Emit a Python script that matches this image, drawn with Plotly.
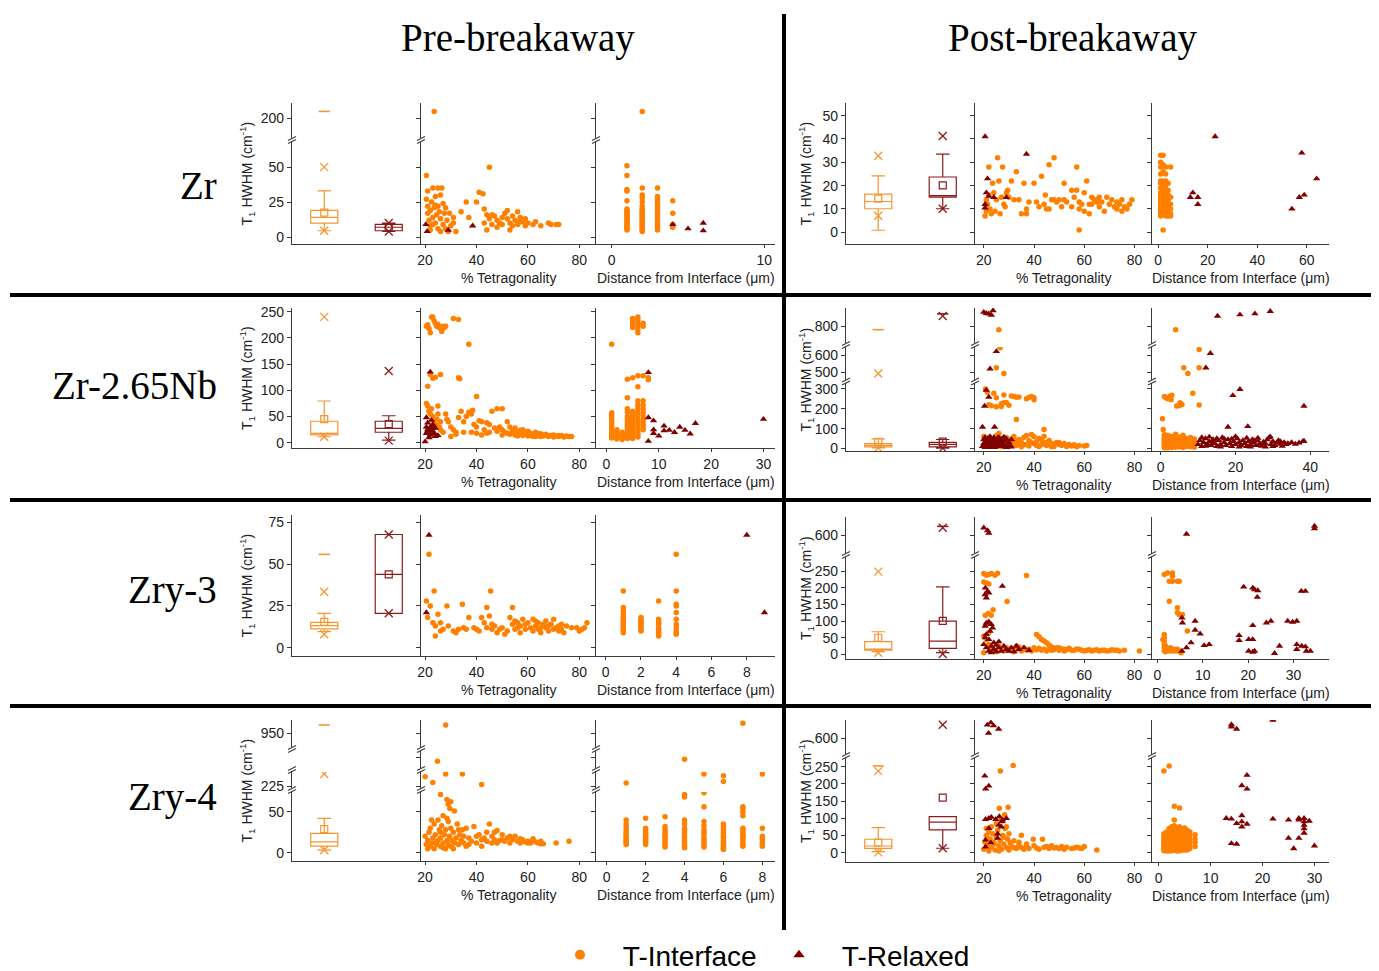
import plotly.graph_objects as go

W, H = 1379, 971
PAGE_PAD = 8  # browser default body margin
FW, FH = W - PAGE_PAD, H - PAGE_PAD
ORANGE = "#FF8000"
DARKRED = "#800000"
BOX_ORANGE = "#F5952F"
BOX_RED = "#8B1C1C"
AXIS = "#3a3a3a"
FONT = "Liberation Sans"
SERIF = "Liberation Serif"

COL_TITLES = ["Pre-breakaway", "Post-breakaway"]
ROW_TITLES = ["Zr", "Zr-2.65Nb", "Zry-3", "Zry-4"]
XTITLE_TET = "% Tetragonality"
XTITLE_DIST = "Distance from Interface (μm)"
YTITLE = "T<sub>1</sub> HWHM (cm<sup>-1</sup>)"
LEGEND_NAMES = ["   T-Interface", "   T-Relaxed"]

TET_TICKS = [20, 40, 60, 80]

# ---------------- box statistics (q1, median, q3, whiskers, mean, 1%/99% "x", min/max "-") -------------
PRE_ZR_BOX_INT = dict(q1=10, med=14, q3=19, lo=4.5, hi=33, mean=17.4, xs=[50, 4.5], dash=[205])
PRE_ZR_BOX_REL = dict(q1=4.5, med=7, q3=9, lo=4, hi=10, mean=7, xs=[10, 4], dash=[])
POST_ZR_BOX_INT = dict(q1=10.1, med=13.2, q3=16.4, lo=0.9, hi=24.2, mean=14.4, xs=[32.8, 7.1], dash=[])
POST_ZR_BOX_REL = dict(q1=15.1, med=15.7, q3=23.7, lo=10.1, hi=33.5, mean=20.1, xs=[41.3, 10.1], dash=[])
PRE_NB_BOX_INT = dict(q1=15, med=18, q3=41, lo=11.5, hi=79.6, mean=45, xs=[240, 11.5], dash=[])
PRE_NB_BOX_REL = dict(q1=20, med=27.5, q3=41, lo=5, hi=51.5, mean=35.7, xs=[137, 4], dash=[])
POST_NB_BOX_INT = dict(q1=8, med=15, q3=24, lo=3, hi=48, mean=33, xs=[493, 2], dash=[780])
POST_NB_BOX_REL = dict(q1=8, med=20, q3=31, lo=2, hi=45, mean=34, xs=[862, 1], dash=[875])
PRE_ZRY3_BOX_INT = dict(q1=11.2, med=13.2, q3=15.2, lo=9.6, hi=20.6, mean=15.5, xs=[33.5, 8], dash=[55.9])
PRE_ZRY3_BOX_REL = dict(q1=20.6, med=43.9, q3=67.8, lo=20.6, hi=67.8, mean=43.9, xs=[67.8, 20.6], dash=[])
POST_ZRY3_BOX_INT = dict(q1=13, med=16, q3=38, lo=8, hi=68, mean=50, xs=[249, 5], dash=[])
POST_ZRY3_BOX_REL = dict(q1=18, med=40, q3=100, lo=5, hi=203, mean=101, xs=[640, 1], dash=[648])
PRE_ZRY4_BOX_INT = dict(q1=8.2, med=13.4, q3=23.6, lo=3.3, hi=42, mean=28.9, xs=[375, 3.3], dash=[1000])
POST_ZRY4_BOX_INT = dict(q1=12.8, med=19.5, q3=39, lo=3, hi=72.7, mean=29, xs=[237, 1], dash=[252])
POST_ZRY4_BOX_REL = dict(q1=66, med=89, q3=105, lo=13, hi=105, mean=160, xs=[659, 13], dash=[])

# ---------------- Pre-breakaway Zr ----------------
PRE_ZR_TET_INT = [(23.5, 205), (20.5, 44), (45, 50),
    (20.5, 27), (21, 22), (21, 17), (21.5, 12), (22, 8), (22, 19), (22.5, 25), (23, 35), (23, 14), (23.5, 21),
    (24, 29), (24, 10), (24.5, 16), (25, 35), (25, 6), (25, 22), (25.5, 18), (26, 13), (26, 30), (26.5, 35),
    (27, 24), (27, 9), (27.5, 17), (28, 21), (28.5, 12), (29, 4), (29.5, 17), (30, 8), (31, 14), (32, 4),
    (31, 10), (22, 5), (23, 9), (24, 23), (26, 4), (28, 6), (21, 33), (34, 18), (36, 25), (37, 14), (40, 25),
    (41, 32), (42.5, 31), (43, 20), (43, 10), (44, 5), (44, 16), (45, 13), (46, 9), (47, 15), (48, 12), (49, 10),
    (50, 14), (50, 9), (51, 17), (52, 19), (52, 13), (53, 10), (53, 5), (54, 15), (55, 12), (56, 18), (56, 9),
    (57, 14), (58, 11), (59, 13), (59, 8), (60, 10), (62, 9), (63, 11), (65, 8), (68, 10), (69, 9), (71, 9),
    (72, 9), (46, 16), (48, 7), (54, 8), (57, 11)]
PRE_ZR_TET_REL = [(20.3, 9), (20.8, 4), (29, 5), (38.5, 8)]
PRE_ZR_DIST_INT = {1: [51, 44, 34, 33, 26, 20, 19, 18, 17, 16, 15, 14, 13, 12, 11, 10, 9, 8, 7, 6, 5],
                   2: [205, 35, 30, 28, 25, 22, 20, 19, 18, 17, 16, 15, 14, 13, 12, 11, 10, 9, 8, 7, 6, 5, 4],
                   3: [35, 29, 27, 25, 23, 21, 19, 17, 15, 13, 11, 9, 7, 5],
                   4: [26, 17, 9, 8, 7]}
PRE_ZR_DIST_REL = [(4, 9), (5, 6), (6, 10), (6, 4.5)]

# ---------------- Post-breakaway Zr ----------------
POST_ZR_TET_INT = [(20.5, 7), (21, 9), (21, 14), (21.5, 12), (22, 28), (22, 16), (22.5, 10), (23, 8), (23.5, 21),
    (24, 17), (24.5, 9), (25, 14), (25.5, 32), (26, 22), (26.5, 8), (27, 15), (27.5, 28), (28, 12), (28.5, 11),
    (29, 17), (29.5, 18), (30, 15), (31, 22), (32, 14), (33, 26), (34, 14), (35, 8), (36, 21), (37, 8), (37, 10),
    (38, 13), (40, 21), (41, 13), (42, 11), (43, 24), (44, 12), (44.5, 16), (45, 10), (46, 29), (47, 14), (48, 32),
    (49, 13), (50, 14), (51, 11), (52, 21), (52, 14), (53, 13), (55, 18), (56, 15), (57, 28), (57, 18), (58, 10),
    (58, 13), (59, 12), (60, 17), (60, 9), (61, 22), (62, 8), (63, 15), (63, 12), (64, 14), (65, 13), (66, 11),
    (66, 15), (67, 13), (68, 9), (69, 15), (70, 12), (71, 14), (72, 11), (73, 10), (73, 13), (74, 12), (75, 9),
    (75, 14), (76, 11), (77, 10), (78, 12), (79, 14), (58, 1), (55, 11), (46, 10), (48, 14), (62, 12), (65, 14)]
POST_ZR_TET_REL = [(20.5, 41), (21.5, 23), (21, 17), (20.5, 12), (20.5, 10.5), (24, 15), (29, 15), (37, 33.5), (22, 15.5)]
POST_ZR_DIST_INT = {1: [33, 30, 28, 25, 22, 21, 19, 17, 16, 15, 14, 13, 12, 11, 10, 9, 8, 7],
                    2: [33, 29, 26, 22, 20, 18, 17, 16, 15, 14, 13, 12, 11, 10, 9, 8, 1],
                    3: [28, 25, 22, 20, 18, 17, 15, 14, 13, 12, 11, 10, 9, 8, 7],
                    4: [21, 18, 16, 14, 12, 11, 10, 9, 8, 7],
                    5: [28, 15, 12, 10, 8, 7]}
POST_ZR_DIST_REL = [(13, 15), (14, 17), (16, 15), (16, 12), (23, 41), (54, 10), (57, 15), (58, 34), (59, 16), (64, 23)]

# ---------------- Pre-breakaway Zr-2.65Nb ----------------
PRE_NB_TET_INT = [(20.5, 222), (21, 225), (21.5, 218), (22, 210), (22.5, 240), (23, 240), (23.5, 232), (24, 228),
    (24.5, 222), (25, 226), (25.5, 220), (26, 218), (26.5, 212), (27, 222), (27.5, 220), (28, 222), (31, 237),
    (33, 235), (37, 188), (21, 108), (22, 130), (23, 123), (24, 125), (26, 130), (33, 124), (33.5, 122), (40, 88),
    (20.5, 75), (21, 70), (21.5, 60), (22, 55), (22.5, 65), (23, 50), (23.5, 40), (24, 35), (24.5, 45), (25, 70),
    (25.5, 30), (26, 25), (27, 20), (28, 55), (28.5, 45), (29, 40), (30, 30), (31, 25), (32, 20), (33, 48),
    (34, 60), (35, 40), (36, 50), (37, 58), (38, 55), (38.5, 62), (39, 35), (40, 30), (41, 42), (42, 40), (43, 25),
    (44, 38), (45, 35), (46, 60), (47, 28), (48, 65), (49, 30), (50, 65), (50, 25), (51, 20), (52, 40), (52, 18),
    (53, 30), (54, 22), (55, 28), (55, 15), (56, 20), (57, 18), (58, 25), (58, 14), (59, 16), (60, 22), (60, 13),
    (61, 18), (62, 15), (62, 12), (63, 20), (64, 14), (65, 17), (65, 12), (66, 13), (67, 16), (68, 12), (69, 14),
    (70, 11), (70, 15), (71, 13), (72, 12), (73, 14), (74, 11), (75, 13), (76, 12), (77, 12), (21, 20), (22, 12),
    (23, 28), (24, 15), (26, 40), (25, 55), (30, 12), (32, 16), (35, 20), (40, 18), (45, 20), (48, 22), (50, 15),
    (53, 16), (56, 13), (57, 24), (59, 20), (61, 14), (63, 12), (64, 17), (66, 15), (68, 14), (72, 14), (74, 12),
    (44, 18), (42, 15), (38, 20)]
PRE_NB_TET_REL = [(20, 2), (20.5, 48), (21, 38), (21, 25), (21.5, 20), (22, 30), (22, 15), (22.5, 26), (23, 22),
    (23.5, 18), (24, 28), (24, 12), (22, 135), (20.5, 18), (21, 22), (22.5, 43), (23, 35), (25, 14), (20.5, 30),
    (22, 25), (23, 28), (21.5, 10)]
PRE_NB_DIST_INT = {1: [188, 57, 52, 47, 42, 37, 32, 27, 23, 19, 15, 12, 9],
                   2: [25, 20, 16, 12, 9, 7],
                   3: [20, 16, 12, 9, 6],
                   4: [121, 86, 65, 58, 50, 44, 38, 33, 28, 23, 19, 15, 11, 8],
                   5: [237, 232, 226, 220, 124, 60, 55, 50, 45, 40, 35, 30, 25, 20, 15, 11, 8],
                   6: [240, 234, 228, 222, 216, 210, 128, 107, 80, 72, 65, 58, 52, 46, 40, 35, 30, 25, 20, 15, 11],
                   7: [228, 222, 128, 80, 72, 65, 58, 52, 46, 40, 35, 30, 25],
                   8: [124, 120]}
PRE_NB_DIST_REL = [(8, 134), (8, 48), (8, 3), (9, 42), (9, 25), (9, 18), (10, 13), (11, 32), (11, 23), (12, 24),
                   (13, 20), (14, 30), (15, 24), (16, 17), (17, 37), (30, 45)]

# ---------------- Post-breakaway Zr-2.65Nb ----------------
POST_NB_TET_INT = [(26, 780), (26.5, 645), (25, 527), (28, 493),
    (20.7, 300), (21.4, 283), (24, 278), (25, 255), (27, 225), (28, 230), (29, 232), (30, 218), (31, 265), (32, 262),
    (33, 258), (34, 260), (37, 250), (38, 258), (39, 262), (40, 255), (40, 245), (33, 146), (44, 95), (22, 220),
    (23, 215), (25, 210), (27, 212), (28, 270),
    (20, 60), (21, 40), (22, 55), (23, 30), (24, 45), (25, 65), (26, 20), (27, 50), (28, 35), (29, 55), (30, 40),
    (31, 25), (32, 60), (33, 15), (34, 45), (35, 30), (36, 55), (37, 20), (38, 40), (39, 70), (40, 60), (40, 25),
    (41, 35), (42, 50), (43, 20), (44, 30), (45, 15), (46, 40), (47, 25), (48, 10), (49, 30), (50, 20), (51, 15),
    (52, 25), (53, 10), (54, 20), (55, 12), (56, 18), (57, 8), (58, 15), (60, 12), (61, 15), (30, 10), (32, 20),
    (35, 8), (38, 12), (42, 10), (45, 28), (47, 8), (50, 30), (36, 18), (34, 22), (26, 75), (28, 10), (31, 48),
    (33, 38), (37, 65), (41, 15), (43, 45), (44, 62), (46, 22), (39, 28), (29, 18), (27, 8)]
POST_NB_TET_REL = [(20, 885), (21, 878), (22, 875), (23, 868), (23.7, 895), (25, 624), (22.5, 521),
    (21, 294), (22, 259), (20.3, 214), (19.5, 108), (24.3, 108),
    (19.5, 10), (20, 25), (20, 45), (20.5, 55), (21, 15), (21, 35), (21.5, 50), (22, 5), (22, 25), (22, 40),
    (22.5, 60), (23, 15), (23, 30), (23, 50), (23.5, 8), (24, 20), (24, 40), (24, 55), (24.5, 30), (25, 10),
    (25, 45), (25.5, 22), (26, 35), (26, 55), (26.5, 15), (27, 28), (27, 45), (27.5, 10), (28, 20), (28.5, 38),
    (29, 5), (29, 48), (30, 15), (30, 30), (31, 8), (20.5, 5), (21.5, 20), (22.5, 12), (23.5, 42), (24.5, 5),
    (25.5, 52), (26.5, 40), (28, 58), (31, 45)]
POST_NB_DIST_INT_EXTRA = [(4, 780), (10.3, 635), (6.2, 527), (7.3, 493), (10.3, 527), (0.5, 150), (1, 262),
    (1.5, 254), (2.4, 262), (2, 250), (4.3, 214), (5.2, 230), (5.7, 222), (8.6, 278), (10.3, 219), (0.7, 95),
    (3, 268), (2.8, 245), (5, 215)]
POST_NB_DIST_INT = {1: [70, 60, 52, 45, 38, 30, 22, 15, 8, 3],
                    2: [65, 55, 48, 40, 33, 25, 18, 10, 4],
                    3: [60, 50, 42, 35, 28, 20, 12, 5],
                    4: [72, 62, 52, 44, 36, 28, 20, 12, 6],
                    5: [58, 48, 40, 32, 24, 16, 8],
                    6: [66, 55, 45, 36, 28, 20, 12, 5],
                    7: [50, 42, 34, 26, 18, 10],
                    8: [55, 45, 36, 27, 18, 9],
                    9: [48, 38, 30, 22, 14, 6]}
POST_NB_DIST_REL = [(15.2, 862), (21.2, 870), (25.2, 876), (29.3, 890), (13.3, 613), (12.1, 527),
    (21.2, 298), (19.3, 267), (18, 108), (23.3, 111), (38.3, 214), (29.3, 59), (38.3, 37),
    (10, 20), (10.5, 40), (11, 10), (11.5, 30), (12, 50), (12.5, 20), (13, 35), (13.5, 15), (14, 45), (14.5, 25),
    (15, 10), (15.5, 40), (16, 20), (16.5, 55), (17, 30), (17.5, 15), (18, 45), (18.5, 25), (19, 10), (19.5, 35),
    (20, 20), (20.5, 50), (21, 30), (21.5, 15), (22, 40), (22.5, 25), (23, 10), (23.5, 35), (24, 20), (24.5, 45),
    (25, 28), (25.5, 15), (26, 38), (26.5, 22), (27, 12), (27.5, 32), (28, 25), (28.5, 45), (29, 55), (29.5, 20),
    (30, 35), (30.5, 15), (31, 28), (31.5, 40), (32, 22), (32.5, 12), (33, 30), (33.5, 20), (34, 25), (35, 30),
    (36, 22), (37, 28), (38, 35), (11, 55), (13, 58), (16, 8), (19, 48), (21, 8), (24, 8), (26, 52), (28, 8),
    (20, 60), (15, 50), (12, 12), (14, 30), (17, 48), (23, 52), (25, 40), (30, 10), (32, 35)]

# ---------------- Pre-breakaway Zry-3 ----------------
PRE_ZRY3_TET_INT = [(21.5, 56), (20.5, 28), (21, 18), (22, 25), (23.5, 34), (23, 15), (24, 13), (24, 7), (25, 20),
    (26, 10), (26, 15), (27, 11), (28.5, 25), (29, 13), (31, 10), (32, 9), (33, 11), (34.5, 26), (35, 12), (36, 11),
    (37, 18), (39, 12), (40, 11), (41, 10), (42, 18), (43, 15), (44, 24), (44, 12), (45.5, 34), (45, 19), (46, 14),
    (46, 11), (47, 13), (48, 9), (49, 11), (50, 12), (51, 8), (52, 10), (53, 18), (54, 24), (54, 14), (55, 16),
    (55, 11), (56, 12), (56, 15), (57, 13), (57, 9), (58, 17), (59, 11), (59, 14), (60, 15), (61, 12), (62, 17),
    (62, 10), (63, 16), (63, 13), (64, 11), (64, 15), (65, 12), (65, 9), (66, 14), (67, 12), (67, 16), (68, 10),
    (68, 13), (69, 14), (70, 11), (70, 17), (71, 12), (72, 13), (72, 10), (73, 11), (73, 14), (74, 9), (75, 13),
    (77, 12), (79, 12), (80, 10), (81, 11), (82, 12), (83, 15)]
PRE_ZRY3_TET_REL = [(21.5, 67.5), (20.5, 21)]
PRE_ZRY3_DIST_INT = {1: [34, 24, 22, 20, 18, 17, 16, 15, 14, 13, 12, 11, 10, 9],
                     2: [18, 17, 16, 15, 14, 13, 12, 11, 10],
                     3: [28, 17, 16, 15, 14, 12, 11, 10, 9, 8, 7],
                     4: [56, 34, 26, 25, 21, 17, 14, 12, 10, 9, 8]}
PRE_ZRY3_DIST_REL = [(8, 67.5), (9, 21)]

# ---------------- Post-breakaway Zry-3 ----------------
POST_ZRY3_TET_INT = [(20, 243), (21, 238), (22, 240), (23, 243), (24.5, 238), (25.5, 244), (20, 218), (21, 215),
    (22, 212), (20.6, 118), (21.8, 123), (23, 118), (23.7, 134), (29.3, 159), (37, 237),
    (41, 60), (42, 53), (43, 45), (44, 40), (45, 35), (46, 28), (47, 22), (48, 18), (50, 20), (52, 15), (54, 18),
    (56, 12), (58, 15), (60, 10), (62, 14), (64, 12), (66, 10), (68, 12), (70, 11), (72, 12), (74, 10), (76, 12),
    (82, 10), (20, 55), (21, 45), (22, 30), (23, 20), (24, 12), (25, 8), (26, 25), (27, 15), (28, 10), (29, 20),
    (30, 12), (31, 18), (32, 8), (33, 15), (34, 22), (35, 10), (36, 18), (37, 12), (38, 15), (39, 10), (40, 20),
    (41, 14), (42, 18), (43, 12), (44, 15), (45, 10), (46, 16), (47, 12), (48, 14), (49, 20), (50, 12), (51, 16),
    (52, 10), (53, 14), (55, 12), (57, 16), (59, 12), (61, 12), (63, 10), (65, 14), (67, 12), (69, 10), (71, 14),
    (73, 12), (22, 65), (21, 90), (20, 5), (33, 25)]
POST_ZRY3_TET_REL = [(20, 640), (21.5, 625), (22, 610), (20.6, 200), (21.5, 190), (22, 185), (21, 170), (20.5, 180),
    (27.4, 205), (21, 94), (22, 98), (23, 90), (23.5, 80), (20.5, 85), (22.5, 70), (26, 38), (20, 30), (21, 20),
    (22, 10), (23, 25), (24, 15), (25, 8), (26, 20), (27, 10), (28, 25), (29, 15), (30, 10), (31, 20), (32, 8),
    (33, 25), (34, 15), (36, 20), (38, 12), (20.5, 50), (22, 45), (24, 35), (25, 28), (23, 5), (21, 60)]
POST_ZRY3_DIST_INT = [(1.5, 240), (2.2, 245), (3.3, 245), (3.3, 235), (2.6, 220), (3.3, 220), (4.4, 220), (4.8, 220),
    (2.6, 160), (4.4, 140), (4.4, 125), (4.8, 120), (5.5, 120), (6.6, 70), (1.5, 60), (1.5, 50), (1.5, 40),
    (1.5, 30), (1.5, 20), (1.5, 10), (1.8, 25), (2.2, 15), (2.6, 10), (2.9, 20), (3.3, 10), (3.7, 15), (4.1, 10),
    (4.4, 15), (4.8, 10), (5.2, 5), (1.2, 45), (1.8, 8)]
POST_ZRY3_DIST_REL = [(6.4, 605), (34.6, 650), (34.6, 635), (5.4, 110), (5.5, 95), (8.3, 100), (8.3, 73), (9.4, 62),
    (7.4, 35), (6.4, 20), (5.4, 10), (10.3, 27), (11.4, 30), (18, 57), (18, 42), (19, 203), (21, 200), (21.4, 195),
    (22.1, 192), (22, 172), (21, 87), (20.1, 45), (21, 45), (20.1, 10), (21, 7), (21.4, 10), (24, 95), (25, 100),
    (25.8, 3), (26.9, 25), (28.7, 100), (29.8, 97), (30.7, 100), (30.7, 30), (30.7, 15), (31.7, 190), (32.6, 190),
    (31.8, 25), (32.6, 23), (32.8, 10), (33.7, 10)]

# ---------------- Pre-breakaway Zry-4 ----------------
PRE_ZRY4_TET_INT = [(28, 1000), (24.8, 480), (20, 340), (23, 270), (28, 375), (34.5, 375), (42, 245),
    (26, 71), (29, 59), (29.6, 54), (31.4, 51), (30, 62), (28.5, 65),
    (20, 20), (20.5, 10), (21, 15), (21.5, 25), (22, 8), (22, 30), (22.5, 12), (23, 18), (23.5, 5), (23.5, 35),
    (24, 22), (24.5, 10), (25, 15), (25, 40), (25.5, 28), (26, 8), (26, 18), (26.5, 33), (27, 12), (27, 45),
    (27.5, 22), (28, 5), (28, 28), (28.5, 15), (29, 38), (29, 10), (29.5, 20), (30, 30), (30, 8), (30.5, 15),
    (31, 25), (31.5, 12), (32, 18), (32.5, 35), (33, 10), (33.5, 22), (34, 15), (34.5, 28), (35, 12), (36, 30),
    (36, 8), (37, 18), (38, 14), (39, 32), (40, 12), (41, 22), (42, 8), (43, 18), (44, 14), (45, 35), (46, 20),
    (47, 16), (48, 27), (48, 12), (49, 15), (50, 22), (51, 14), (52, 18), (53, 12), (54, 16), (55, 20), (56, 14),
    (57, 12), (58, 16), (59, 13), (60, 14), (61, 12), (62, 15), (63, 13), (64, 12), (65, 14), (66, 11), (71, 12),
    (76, 14), (21, 5), (22.5, 40), (24, 12), (26, 25), (27, 6), (28.5, 42), (31, 5), (33, 28), (35, 20), (37, 10),
    (40, 20), (42, 16), (44, 25), (46, 12), (47, 25), (50, 16), (53, 20), (57, 17), (60, 12), (62, 17), (65, 11)]
PRE_ZRY4_TET_REL = []
PRE_ZRY4_DIST_INT = {1: [264, 40, 35, 32, 28, 25, 22, 20, 18, 16, 14, 12, 10],
                     2: [42, 30, 28, 25, 22, 20, 18, 16, 14, 12, 10],
                     3: [44, 32, 28, 25, 22, 20, 18, 15, 12, 10, 7],
                     4: [491, 71, 68, 40, 35, 30, 27, 24, 20, 17, 14, 11, 8, 6],
                     5: [375, 73, 56, 38, 33, 28, 25, 22, 18, 15, 12, 10, 7],
                     6: [354, 282, 35, 32, 28, 25, 22, 20, 18, 15, 12, 10, 8, 6, 4],
                     7: [1010, 56, 54, 50, 45, 30, 28, 25, 22, 20, 18, 15, 12, 10, 8],
                     8: [375, 30, 20, 17, 13, 10, 8]}
PRE_ZRY4_DIST_REL = []

# ---------------- Post-breakaway Zry-4 ----------------
POST_ZRY4_TET_INT = [(26.6, 237), (31.7, 253), (29.7, 132), (26.2, 129), (28.3, 110), (35, 51), (39.7, 39), (43.4, 39),
    (20, 10), (20.5, 30), (21, 50), (21.5, 20), (22, 60), (22.5, 40), (23, 15), (23.5, 55), (24, 30), (24.5, 8),
    (25, 45), (25.5, 65), (26, 20), (26.5, 35), (27, 10), (27.5, 50), (28, 25), (28.5, 70), (29, 15), (29.5, 40),
    (30, 8), (30.5, 28), (31, 18), (32, 35), (33, 12), (34, 22), (35, 15), (36, 10), (37, 18), (38, 12), (40, 20),
    (41, 14), (42, 10), (44, 16), (46, 12), (47, 20), (48, 14), (50, 12), (51, 18), (52, 10), (55, 12), (57, 16),
    (58, 14), (59, 12), (60, 18), (65, 8), (22, 5), (24, 25), (26, 5), (28, 45), (30, 55), (25, 85), (27, 95),
    (29, 75), (23, 75), (21, 70), (32, 15), (34, 30), (37, 25), (45, 18), (49, 15), (56, 14), (53, 16)]
POST_ZRY4_TET_REL = [(21.4, 658), (22.8, 668), (23.9, 655), (21.9, 622), (25.9, 640),
    (20.4, 223), (20.7, 185), (22, 194), (20.7, 97), (22, 100), (23, 103), (24.8, 97), (26.2, 105), (27.5, 95),
    (29, 100), (22, 71), (25.5, 42), (20.7, 37), (20.7, 17), (22.8, 29), (27.3, 90), (27, 75), (25.5, 55), (26, 80)]
POST_ZRY4_DIST_INT_EXTRA = [(1, 237), (2, 252), (3, 95), (3, 135), (4, 130)]
POST_ZRY4_DIST_INT = {1: [55, 48, 42, 36, 30, 25, 20, 15, 10, 6],
                      1.5: [60, 50, 40, 32, 26, 20, 14, 9, 5],
                      2: [70, 62, 54, 46, 38, 30, 22, 16, 10, 5],
                      2.5: [75, 65, 55, 45, 35, 28, 20, 12, 6],
                      3: [78, 68, 58, 48, 40, 32, 24, 16, 8],
                      3.5: [72, 62, 52, 42, 34, 26, 18, 10, 5],
                      4: [75, 65, 55, 45, 35, 28, 20, 12, 6],
                      4.5: [70, 60, 50, 40, 30, 22, 14, 8],
                      5: [72, 62, 52, 42, 32, 24, 16, 8],
                      5.5: [65, 55, 45, 35, 25, 15, 8],
                      6: [60, 50, 40, 30, 20, 12],
                      7: [52, 40, 30, 18]}
POST_ZRY4_DIST_REL = [(14, 660), (14, 650), (15, 640), (22, 680), (13, 100), (14, 98), (14, 27), (15, 25), (15, 85),
    (16, 108), (16, 195), (16, 90), (16, 75), (17, 225), (17, 185), (17, 83), (22, 98), (25, 95), (25, 42), (26, 12),
    (27, 42), (27, 100), (27, 95), (28, 90), (28, 80), (28, 70), (28, 57), (29, 92), (30, 20), (28, 100)]


def pairs_xy(pairs):
    return [p[0] for p in pairs], [p[1] for p in pairs]


def columns_xy(cols, extra=()):
    xs, ys = [], []
    for x, vals in cols.items():
        for v in vals:
            xs.append(x)
            ys.append(v)
    for x, v in extra:
        xs.append(x)
        ys.append(v)
    return xs, ys


# ---------------- geometry (screen pixels) ----------------
PRE_X = (292, 421, 596, 775)
POST_X = (846, 975, 1152, 1329)
PRE_TET_RANGE = [18.4, 86.5]
POST_TET_RANGE = [16.5, 87]

CELLS = [
    dict(col=0, row=0, xp=PRE_X, t1=PRE_TET_RANGE,
         segs=[(103, 138, 186, 211, [200]), (142, 244, -5, 68, [0, 25, 50])],
         s2=[-1.03, 10.7], s2t=[0, 10],
         bi=PRE_ZR_BOX_INT, br=PRE_ZR_BOX_REL,
         ti=pairs_xy(PRE_ZR_TET_INT), tr=pairs_xy(PRE_ZR_TET_REL),
         di=columns_xy(PRE_ZR_DIST_INT), dr=pairs_xy(PRE_ZR_DIST_REL)),
    dict(col=1, row=0, xp=POST_X, t1=POST_TET_RANGE,
         segs=[(103, 244, -5, 55.4, [0, 10, 20, 30, 40, 50])],
         s2=[-2.5, 69], s2t=[0, 20, 40, 60],
         bi=POST_ZR_BOX_INT, br=POST_ZR_BOX_REL,
         ti=pairs_xy(POST_ZR_TET_INT), tr=pairs_xy(POST_ZR_TET_REL),
         di=columns_xy(POST_ZR_DIST_INT), dr=pairs_xy(POST_ZR_DIST_REL)),
    dict(col=0, row=1, xp=PRE_X, t1=PRE_TET_RANGE,
         segs=[(308, 448, -10, 257, [0, 50, 100, 150, 200, 250])],
         s2=[-2, 32.2], s2t=[0, 10, 20, 30],
         bi=PRE_NB_BOX_INT, br=PRE_NB_BOX_REL,
         ti=pairs_xy(PRE_NB_TET_INT), tr=pairs_xy(PRE_NB_TET_REL),
         di=columns_xy(PRE_NB_DIST_INT), dr=pairs_xy(PRE_NB_DIST_REL)),
    dict(col=1, row=1, xp=POST_X, t1=POST_TET_RANGE,
         segs=[(308, 343, 700, 910, [800]), (347, 380, 455, 650, [500, 600]), (383, 451, -13, 330, [0, 100, 200, 300])],
         s2=[-2.3, 45], s2t=[0, 20, 40],
         bi=POST_NB_BOX_INT, br=POST_NB_BOX_REL,
         ti=pairs_xy(POST_NB_TET_INT), tr=pairs_xy(POST_NB_TET_REL),
         di=columns_xy(POST_NB_DIST_INT, POST_NB_DIST_INT_EXTRA), dr=pairs_xy(POST_NB_DIST_REL)),
    dict(col=0, row=2, xp=PRE_X, t1=PRE_TET_RANGE,
         segs=[(515, 656, -5, 79.5, [0, 25, 50, 75])],
         s2=[-0.55, 9.6], s2t=[0, 2, 4, 6, 8],
         bi=PRE_ZRY3_BOX_INT, br=PRE_ZRY3_BOX_REL,
         ti=pairs_xy(PRE_ZRY3_TET_INT), tr=pairs_xy(PRE_ZRY3_TET_REL),
         di=columns_xy(PRE_ZRY3_DIST_INT), dr=pairs_xy(PRE_ZRY3_DIST_REL)),
    dict(col=1, row=2, xp=POST_X, t1=POST_TET_RANGE,
         segs=[(517, 553, 500, 700, [600]), (557, 659, -14, 293, [0, 50, 100, 150, 200, 250])],
         s2=[-1.2, 37.8], s2t=[0, 10, 20, 30],
         bi=POST_ZRY3_BOX_INT, br=POST_ZRY3_BOX_REL,
         ti=pairs_xy(POST_ZRY3_TET_INT), tr=pairs_xy(POST_ZRY3_TET_REL),
         di=pairs_xy(POST_ZRY3_DIST_INT), dr=pairs_xy(POST_ZRY3_DIST_REL)),
    dict(col=0, row=3, xp=PRE_X, t1=PRE_TET_RANGE,
         segs=[(720, 747, 868, 1030, [950]), (751, 768, 440, 540, [500]), (772, 788, 200, 400, [225]),
               (792, 861, -10, 74, [0, 50])],
         s2=[-0.55, 8.65], s2t=[0, 2, 4, 6, 8],
         bi=PRE_ZRY4_BOX_INT, br=None,
         ti=pairs_xy(PRE_ZRY4_TET_INT), tr=pairs_xy(PRE_ZRY4_TET_REL),
         di=columns_xy(PRE_ZRY4_DIST_INT), dr=pairs_xy(PRE_ZRY4_DIST_REL)),
    dict(col=1, row=3, xp=POST_X, t1=POST_TET_RANGE,
         segs=[(720, 754, 530, 680, [600]), (758, 862, -27, 275, [0, 50, 100, 150, 200, 250])],
         s2=[-1.3, 32.8], s2t=[0, 10, 20, 30],
         bi=POST_ZRY4_BOX_INT, br=POST_ZRY4_BOX_REL,
         ti=pairs_xy(POST_ZRY4_TET_INT), tr=pairs_xy(POST_ZRY4_TET_REL),
         di=columns_xy(POST_ZRY4_DIST_INT, POST_ZRY4_DIST_INT_EXTRA), dr=pairs_xy(POST_ZRY4_DIST_REL)),
]


def fx(p):
    return (p - PAGE_PAD) / FW


def fy(p):
    return 1 - (p - PAGE_PAD) / FH


fig = go.Figure()
layout = dict(width=FW, height=FH, margin=dict(l=0, r=0, t=0, b=0, pad=0, autoexpand=False),
              paper_bgcolor="white", plot_bgcolor="rgba(0,0,0,0)", showlegend=True)
shapes = []
annotations = []
counter = [0]


def note(text, x, y, size, family=FONT, xanchor="center", angle=0, color="#222"):
    annotations.append(dict(text=text, x=fx(x), y=fy(y), xref="paper", yref="paper", xanchor=xanchor,
                            yanchor="middle", textangle=angle, showarrow=False,
                            font=dict(family=family, size=size, color=color)))


def new_axes(x0, x1, top, bot, xrange, yrange, yticks, show_x, xticks, ylabels):
    counter[0] += 1
    n = counter[0]
    sx = "" if n == 1 else str(n)
    xa = dict(domain=[fx(x0), fx(x1)], anchor="y" + sx, range=xrange, showgrid=False, zeroline=False,
              fixedrange=True, automargin=False)
    if show_x:
        xa.update(showline=True, linecolor=AXIS, linewidth=1.3, ticks="outside" if xticks else "",
                  ticklen=3, tickcolor=AXIS, tickvals=xticks if xticks else [], showticklabels=bool(xticks),
                  tickfont=dict(family=FONT, size=14, color="#222"))
    else:
        xa.update(visible=False)
    ya = dict(domain=[fy(bot), fy(top)], anchor="x" + sx, range=yrange, showgrid=False, zeroline=False,
              showline=True, linecolor=AXIS, linewidth=1.3, ticks="outside", ticklen=4, tickcolor=AXIS,
              tickvals=yticks, showticklabels=ylabels, tickfont=dict(family=FONT, size=14, color="#222"),
              fixedrange=True, automargin=False)
    layout["xaxis" + sx] = xa
    layout["yaxis" + sx] = ya
    return "x" + sx, "y" + sx


def seg_index(segs, v):
    for i, s in enumerate(segs):
        if s[2] <= v <= s[3]:
            return i
    return None


for cell in CELLS:
    xp = cell["xp"]
    segs = cell["segs"]
    nseg = len(segs)
    panels = [(xp[0], xp[1], [0.5, 2.5], None),
              (xp[1], xp[2], cell["t1"], TET_TICKS),
              (xp[2], xp[3], cell["s2"], cell["s2t"])]
    axes = {}
    for si, (top, bot, lo, hi, yt) in enumerate(segs):
        last = si == nseg - 1
        for pi, (x0, x1, xr, xt) in enumerate(panels):
            axes[(si, pi)] = new_axes(x0, x1, top, bot, xr, [lo, hi], yt, last, xt, pi == 0)

    # box plots
    for pos, stats, bcol in ((1, cell["bi"], BOX_ORANGE), (2, cell["br"], BOX_RED)):
        if stats is None:
            continue
        xa, ya = axes[(nseg - 1, 0)]
        fig.add_trace(go.Box(x=[pos], q1=[stats["q1"]], median=[stats["med"]], q3=[stats["q3"]],
                             lowerfence=[stats["lo"]], upperfence=[stats["hi"]], width=0.42, whiskerwidth=0.5,
                             line=dict(color=bcol, width=1.2), fillcolor="rgba(0,0,0,0)", boxpoints=False,
                             xaxis=xa, yaxis=ya, showlegend=False, hoverinfo="skip"))
        groups = [([stats["mean"]], dict(symbol="square-open", size=7, color=bcol, line=dict(width=1.2, color=bcol))),
                  (stats["xs"], dict(symbol="x-thin", size=8, color=bcol, line=dict(width=1.3, color=bcol))),
                  (stats["dash"], dict(symbol="line-ew", size=8, color=bcol, line=dict(width=1.6, color=bcol)))]
        for vals, mk in groups:
            for v in vals:
                si = seg_index(segs, v)
                if si is None:
                    continue
                xa, ya = axes[(si, 0)]
                fig.add_trace(go.Scatter(x=[pos], y=[v], mode="markers", marker=mk, xaxis=xa, yaxis=ya,
                                         showlegend=False, hoverinfo="skip"))

    # scatter panels
    for pi, ints, rels in ((1, cell["ti"], cell["tr"]), (2, cell["di"], cell["dr"])):
        for (xs, ys), mk in ((ints, dict(symbol="circle", size=5.5, color=ORANGE)),
                             (rels, dict(symbol="triangle-up", size=6.5, color=DARKRED))):
            for si in range(nseg):
                sx = [x for x, y in zip(xs, ys) if seg_index(segs, y) == si]
                sy = [y for y in ys if seg_index(segs, y) == si]
                if not sx:
                    continue
                xa, ya = axes[(si, pi)]
                fig.add_trace(go.Scatter(x=sx, y=sy, mode="markers", marker=mk, xaxis=xa, yaxis=ya,
                                         showlegend=False, hoverinfo="skip"))

    # axis break marks
    for si in range(nseg - 1):
        yb = (segs[si][1] + segs[si + 1][0]) / 2
        for x in (xp[0], xp[1], xp[2]):
            for dy in (-1.6, 1.6):
                shapes.append(dict(type="line", xref="paper", yref="paper",
                                   x0=fx(x - 4), y0=fy(yb + dy + 2), x1=fx(x + 4), y1=fy(yb + dy - 2),
                                   line=dict(color=AXIS, width=1.1)))

    top_all = segs[0][0]
    bot_all = segs[-1][1]
    ytitle_x = 247 if cell["col"] == 0 else 806
    note(YTITLE, ytitle_x, (top_all + bot_all) / 2, 14, angle=-90)
    note(XTITLE_TET, (xp[1] + xp[2]) / 2, bot_all + 34, 14)
    note(XTITLE_DIST, (xp[2] + xp[3]) / 2, bot_all + 34, 14)

# legend keys
fig.add_trace(go.Scatter(x=[None], y=[None], mode="markers", name=LEGEND_NAMES[0],
                         marker=dict(symbol="circle", size=10, color=ORANGE)))
fig.add_trace(go.Scatter(x=[None], y=[None], mode="markers", name=LEGEND_NAMES[1],
                         marker=dict(symbol="triangle-up", size=10, color=DARKRED)))

# titles
for i, t in enumerate(COL_TITLES):
    note(t, 518 if i == 0 else 1073, 38, 39, family=SERIF, color="black")
for t, yy in zip(ROW_TITLES, (185, 385, 590, 797)):
    note(t, 219, yy, 39, family=SERIF, xanchor="right", color="black")

# separators
shapes.append(dict(type="line", xref="paper", yref="paper", x0=fx(784), x1=fx(784), y0=fy(14), y1=fy(930),
                   line=dict(color="black", width=4)))
for yy in (295, 500, 706):
    shapes.append(dict(type="line", xref="paper", yref="paper", x0=fx(10), x1=fx(1379), y0=fy(yy), y1=fy(yy),
                       line=dict(color="black", width=4)))

layout["shapes"] = shapes
layout["annotations"] = annotations
layout["legend"] = dict(orientation="h", x=fx(560), xanchor="left", y=fy(955), yanchor="middle",
                        font=dict(family=FONT, size=28, color="black"), entrywidth=174, entrywidthmode="pixels",
                        bgcolor="rgba(0,0,0,0)")
fig.update_layout(**layout)
fig.write_html("out.html")
